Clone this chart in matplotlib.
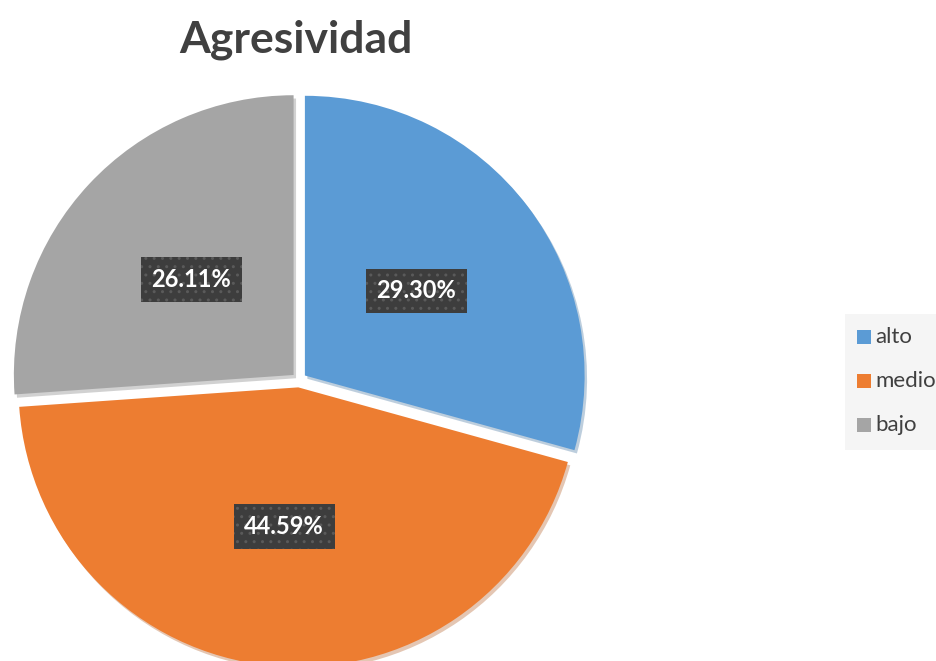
import matplotlib.pyplot as plt
from matplotlib.patches import Rectangle

labels = ["alto", "medio", "bajo"]
values = [29.30, 44.59, 26.11]
colors = ["#5B9BD5", "#ED7D31", "#A5A5A5"]

plt.rcParams['font.family'] = ['Lato', 'DejaVu Sans']

fig = plt.figure(figsize=(9.37, 6.61), dpi=100)
W, H = 937, 661
cx, cy, r = 299, 380, 296
ax = fig.add_axes([(cx - r) / W, (H - cy - r) / H, 2 * r / W, 2 * r / H])

wedges, texts, autotexts = ax.pie(
    values, colors=colors, startangle=90, counterclock=False,
    explode=[0.025, 0.025, 0.025], radius=0.945,
    autopct=lambda p: f"{p:.2f}%", pctdistance=0.5,
    wedgeprops=dict(linewidth=0),
    shadow=dict(ox=0.006, oy=-0.008, shade=0.25, alpha=0.35),
)
for t in autotexts:
    t.set_color("white")
    t.set_fontsize(17)
    t.set_fontweight("bold")
    t.set_bbox(dict(boxstyle="square,pad=0.45", facecolor="#3d3d3d",
                    edgecolor="#5a5a5a", hatch="..", linewidth=0))
ax.set_xlim(-1, 1)
ax.set_ylim(-1, 1)
ax.set_aspect("equal")

fig.text(296 / W, 1 - 40 / H, "Agresividad", ha="center", va="center",
         fontsize=32, fontweight="bold", color="#404040")

# legend
fig.patches.append(Rectangle((845 / W, 1 - 450 / H), 92 / W, 136 / H,
                             transform=fig.transFigure, facecolor="#f5f5f5",
                             edgecolor="none", zorder=0))
for i, (lab, col) in enumerate(zip(labels, colors)):
    y = 1 - (337 + 44 * i) / H
    fig.patches.append(Rectangle((857 / W, y - 7 / H), 14 / W, 14 / H,
                                 transform=fig.transFigure, facecolor=col,
                                 edgecolor="none", zorder=1))
    fig.text(875 / W, y, lab, ha="left", va="center", fontsize=16,
             color="#404040")

fig.savefig("out.png", dpi=100)
